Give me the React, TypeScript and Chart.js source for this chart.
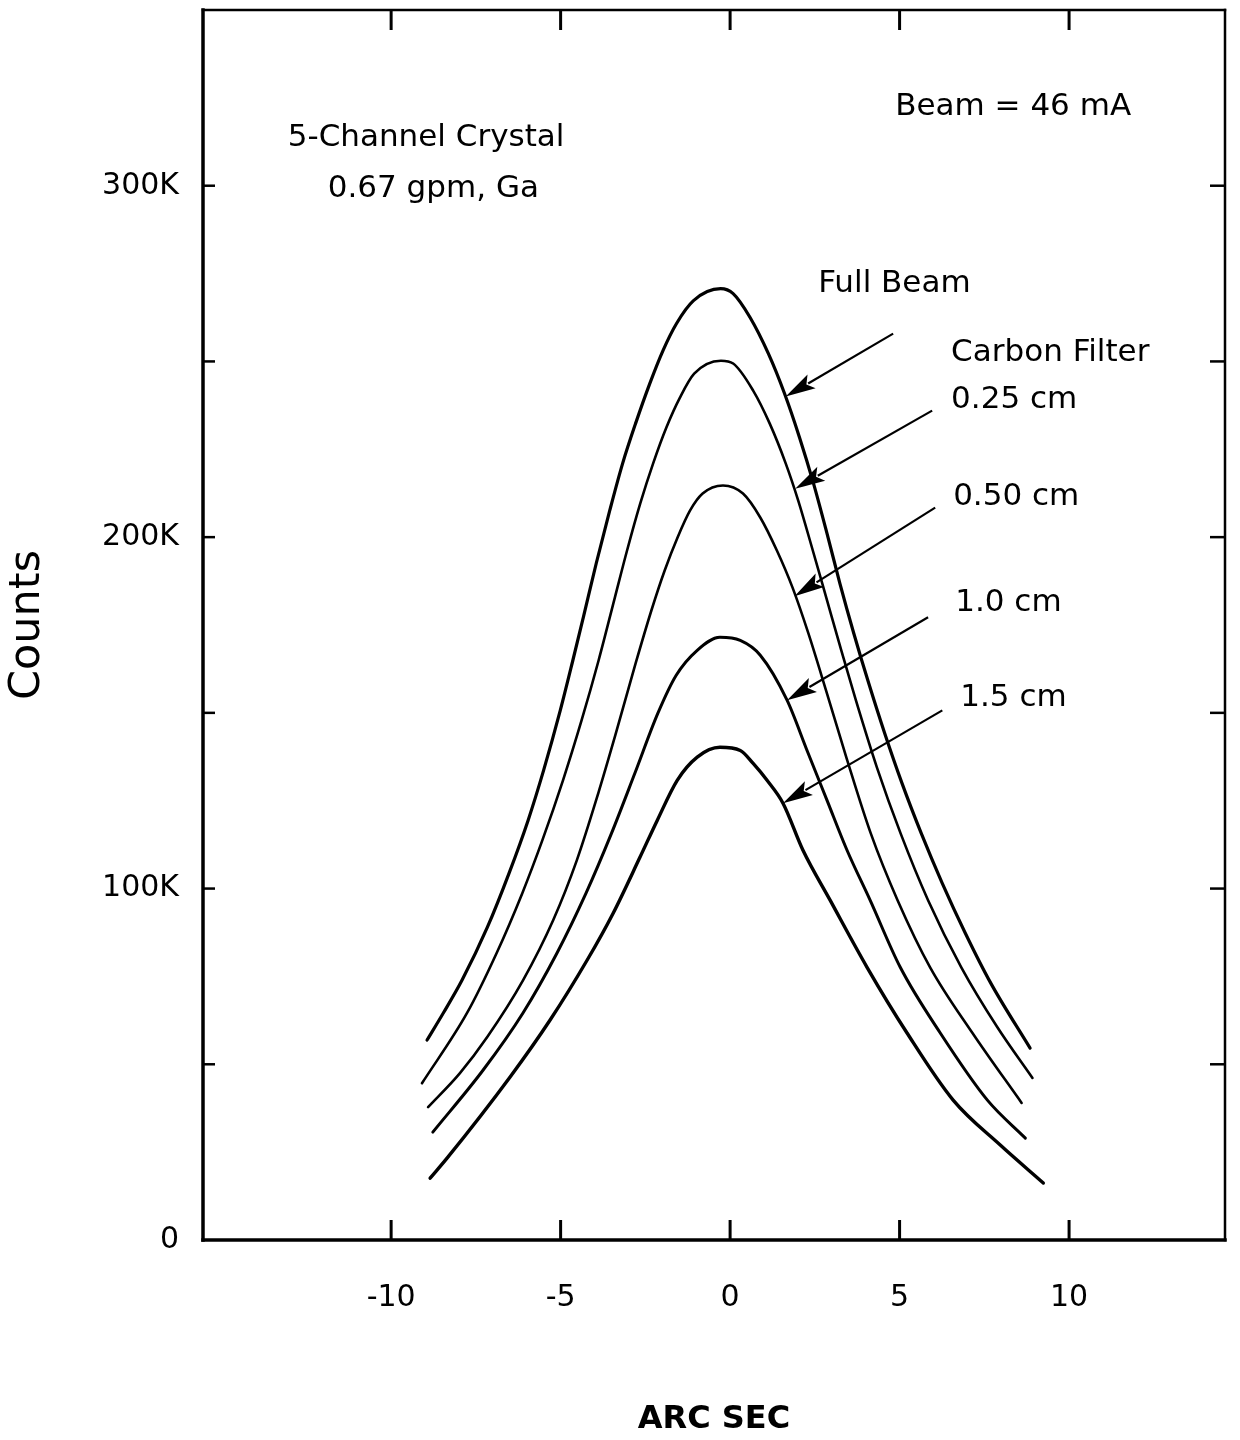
import React, { useEffect, useRef } from "react";
import { Chart, registerables } from "chart.js";

Chart.register(...registerables);

const FONT = '"DejaVu Sans", "Liberation Sans", Arial, sans-serif';

// Axis ticks
const xTickValues = [-10, -5, 0, 5, 10];
const yTickValues = [0, 50000, 100000, 150000, 200000, 250000, 300000];
const yLabelledTicks = [0, 100000, 200000, 300000];

// Series (ARC SEC vs Counts)
const fullBeamX = [-8.94, -8.46, -7.91, -7.16, -6.52, -5.96, -5.5, -5.01, -4.64, -4.33, -3.95, -3.55, -3.17, -2.79, -2.37, -1.98, -1.58, -1.08, -0.28, 0.09, 0.59, 1.13, 1.6, 2.05, 2.46, 2.86, 3.24, 3.65, 4.09, 4.56, 5.07, 5.64, 6.26, 6.94, 7.69, 8.85];
const fullBeamY = [56900, 64600, 73900, 89000, 104400, 119400, 133700, 150700, 164900, 177200, 192500, 207600, 221000, 232300, 243700, 253100, 260800, 267300, 270700, 269300, 262500, 252200, 241000, 228300, 215300, 201000, 186800, 172600, 158400, 144200, 130000, 115700, 101500, 87300, 73100, 54600];

const c025X = [-9.09, -7.76, -6.89, -6.13, -5.54, -4.93, -4.38, -3.88, -3.4, -3.04, -2.65, -2.27, -1.88, -1.48, -1.06, -0.27, 0.09, 0.68, 1.17, 1.64, 2.01, 2.44, 2.86, 3.28, 3.71, 4.33, 5.03, 5.84, 6.82, 7.88, 8.92];
const c025Y = [44600, 64600, 81600, 98700, 113700, 130800, 147900, 164900, 182800, 196200, 209600, 221000, 231200, 239700, 246500, 250200, 249400, 241700, 232300, 221000, 210400, 196200, 182000, 167800, 153600, 134500, 115700, 96700, 77600, 60600, 46100];

const c050X = [-8.91, -7.97, -7.17, -6.11, -5.22, -4.52, -3.89, -3.39, -2.79, -2.32, -1.93, -1.55, -1.18, -0.81, -0.21, 0.38, 0.89, 1.38, 1.84, 2.31, 2.83, 3.44, 4.15, 4.94, 5.9, 7.15, 8.6];
const c050Y = [37800, 47500, 57700, 73900, 91000, 108100, 127100, 143500, 164000, 179200, 190500, 199900, 207600, 212400, 214700, 212400, 205600, 196200, 185700, 172600, 156400, 137000, 115700, 96700, 77600, 58900, 39000];

const c100X = [-8.77, -7.29, -6.11, -5.11, -4.25, -3.5, -2.81, -2.13, -1.59, -0.97, -0.3, 0.3, 0.89, 1.68, 2.27, 2.86, 3.45, 4.13, 5.02, 6.2, 7.59, 8.71];
const c100Y = [30700, 48300, 64600, 81600, 98700, 115700, 132800, 149900, 160700, 167800, 171500, 170600, 166400, 153600, 139300, 125100, 110900, 96700, 77600, 58900, 39800, 29000];

const c150X = [-8.85, -8.35, -6.49, -5.31, -4.22, -3.45, -2.66, -2.15, -1.56, -0.97, -0.3, 0.3, 0.68, 1.09, 1.56, 2.15, 2.95, 4.04, 5.22, 6.58, 7.97, 9.24];
const c150Y = [17600, 23300, 46400, 62600, 79600, 93000, 108900, 119400, 130800, 137400, 140200, 139300, 135600, 130800, 124300, 110900, 96700, 77600, 58900, 39800, 27000, 16200];

const seriesNames = ["Full Beam", "0.25 cm", "0.50 cm", "1.0 cm", "1.5 cm"];
const seriesX = [fullBeamX, c025X, c050X, c100X, c150X];
const seriesY = [fullBeamY, c025Y, c050Y, c100Y, c150Y];
const seriesWidths = [3.2, 2.6, 2.6, 3, 3.4];

// Arrow annotations (data coordinates)
const arrowFrom = [[4.81, 257900], [5.96, 236000], [6.05, 208400], [5.84, 177200], [6.26, 150700]];
const arrowTo = [[1.64, 240000], [1.92, 213800], [1.9, 183200], [1.68, 153600], [1.56, 124300]];

// Text notes (left edge x, vertical centre y in data coordinates)
const noteTexts = ["5-Channel Crystal", "0.67 gpm, Ga", "Beam = 46 mA", "Full Beam", "Carbon Filter", "0.25 cm", "0.50 cm", "1.0 cm", "1.5 cm"];
const noteX = [-13.05, -11.87, 4.87, 2.6, 6.52, 6.52, 6.58, 6.64, 6.79];
const noteY = [313600, 299100, 322500, 272100, 252500, 238900, 211300, 181400, 154100];

const framePlugin = {
  id: "frameAndNotes",
  afterDraw(chart: any) {
    const { ctx, chartArea: a, scales } = chart;
    const xs = scales.x;
    const ys = scales.y;
    ctx.save();
    ctx.strokeStyle = "#000";
    ctx.fillStyle = "#000";
    ctx.lineCap = "square";
    const seg = (x1: number, y1: number, x2: number, y2: number, w: number) => {
      ctx.lineWidth = w;
      ctx.beginPath();
      ctx.moveTo(x1, y1);
      ctx.lineTo(x2, y2);
      ctx.stroke();
    };
    // frame
    seg(a.left, a.top, a.left, a.bottom, 3.5);
    seg(a.left, a.bottom, a.right, a.bottom, 3.5);
    seg(a.left, a.top, a.right, a.top, 2.5);
    seg(a.right, a.top, a.right, a.bottom, 2.5);
    // inward ticks
    ctx.lineCap = "butt";
    xTickValues.forEach((v) => {
      const px = xs.getPixelForValue(v);
      seg(px, a.bottom, px, a.bottom - 20, 3);
      seg(px, a.top, px, a.top + 20, 3);
    });
    yTickValues.forEach((v) => {
      if (v === 0) return;
      const py = ys.getPixelForValue(v);
      seg(a.left, py, a.left + 12, py, 2.5);
      seg(a.right, py, a.right - 15, py, 2.5);
    });
    // arrows
    arrowFrom.forEach((f, i) => {
      const t = arrowTo[i];
      const x1 = xs.getPixelForValue(f[0]);
      const y1 = ys.getPixelForValue(f[1]);
      const x2 = xs.getPixelForValue(t[0]);
      const y2 = ys.getPixelForValue(t[1]);
      const dx = x2 - x1;
      const dy = y2 - y1;
      const len = Math.hypot(dx, dy);
      const ux = dx / len;
      const uy = dy / len;
      const L = 30;
      const W = 8;
      const bx = x2 - ux * L;
      const by = y2 - uy * L;
      seg(x1, y1, bx + ux * 4, by + uy * 4, 2.2);
      ctx.beginPath();
      ctx.moveTo(x2, y2);
      ctx.lineTo(bx - uy * W, by + ux * W);
      ctx.lineTo(bx + ux * 6, by + uy * 6);
      ctx.lineTo(bx + uy * W, by - ux * W);
      ctx.closePath();
      ctx.fill();
    });
    // notes
    ctx.font = `31px ${FONT}`;
    ctx.textAlign = "left";
    ctx.textBaseline = "middle";
    noteTexts.forEach((s, i) => {
      ctx.fillText(s, xs.getPixelForValue(noteX[i]), ys.getPixelForValue(noteY[i]));
    });
    ctx.restore();
  },
};

export default function App() {
  const canvasRef = useRef<HTMLCanvasElement | null>(null);

  useEffect(() => {
    document.body.style.margin = "0";
    const canvas = canvasRef.current;
    if (!canvas) return;
    const datasets = seriesNames.map((name, i) => ({
      label: name,
      data: seriesX[i].map((x, j) => ({ x, y: seriesY[i][j] })),
      borderColor: "#000",
      backgroundColor: "#000",
      borderWidth: seriesWidths[i],
      pointRadius: 0,
      fill: false,
      cubicInterpolationMode: "monotone" as const,
      borderCapStyle: "round" as const,
      borderJoinStyle: "round" as const,
    }));
    const chart = new Chart(canvas, {
      type: "line",
      data: { datasets },
      plugins: [framePlugin],
      options: {
        responsive: false,
        animation: false,
        devicePixelRatio: 1,
        layout: { padding: { left: 0, right: 15, top: 10, bottom: 0 } },
        plugins: { legend: { display: false }, tooltip: { enabled: false } },
        scales: {
          x: {
            type: "linear",
            min: -15.55,
            max: 14.6,
            grid: { display: false },
            border: { display: false },
            afterFit: (s: any) => {
              s.height = 200;
              s.paddingLeft = 0;
              s.paddingRight = 0;
            },
            afterBuildTicks: (s: any) => {
              s.ticks = xTickValues.map((v) => ({ value: v }));
            },
            ticks: {
              color: "#000",
              font: { family: FONT, size: 30 },
              padding: 32,
              maxRotation: 0,
              autoSkip: false,
              callback: (v: any) => String(v),
            },
            title: {
              display: true,
              text: "ARC SEC",
              color: "#000",
              font: { family: FONT, size: 32, weight: "bold" },
              padding: { top: 0, bottom: 1 },
            },
          },
          y: {
            type: "linear",
            min: 0,
            max: 350000,
            grid: { display: false },
            border: { display: false },
            afterFit: (s: any) => {
              s.width = 203;
              s.paddingTop = 0;
              s.paddingBottom = 0;
            },
            afterBuildTicks: (s: any) => {
              s.ticks = yTickValues.map((v) => ({ value: v }));
            },
            ticks: {
              color: "#000",
              font: { family: FONT, size: 30 },
              padding: 16,
              autoSkip: false,
              callback: (v: any) =>
                yLabelledTicks.includes(Number(v)) ? (Number(v) === 0 ? "0" : `${Number(v) / 1000}K`) : "",
            },
            title: {
              display: true,
              text: "Counts",
              color: "#000",
              font: { family: FONT, size: 43 },
              padding: { top: 2, bottom: 0 },
            },
          },
        },
      },
    });
    return () => chart.destroy();
  }, []);

  return (
    <div style={{ width: 1240, height: 1440 }}>
      <canvas ref={canvasRef} width={1240} height={1440} />
    </div>
  );
}
